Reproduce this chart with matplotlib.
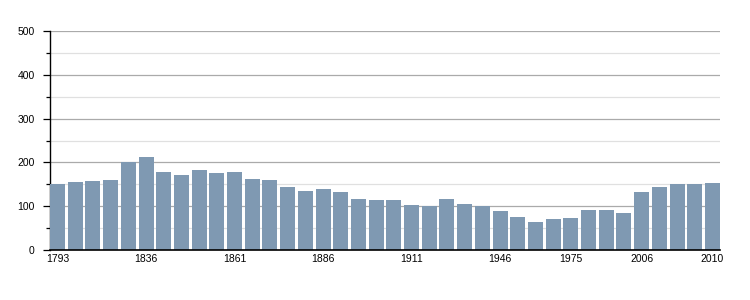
import numpy as np
import matplotlib
matplotlib.use('Agg')
import matplotlib.pyplot as plt

plt.rcParams['font.family'] = ['Liberation Sans', 'DejaVu Sans']

years = [1793, 1800, 1806, 1821, 1831, 1836, 1841, 1846, 1851, 1856,
         1861, 1866, 1872, 1876, 1881, 1886, 1891, 1896, 1901, 1906,
         1911, 1921, 1926, 1931, 1936, 1946, 1954, 1962, 1968, 1975,
         1982, 1990, 1999, 2006, 2007, 2008, 2009, 2010]
population = [151, 155, 157, 160, 201, 212, 178, 171, 182, 176,
              178, 162, 160, 144, 135, 139, 132, 116, 114, 114,
              103, 100, 116, 105, 100, 89, 75, 64, 71, 73,
              91, 91, 84, 132, 144, 151, 151, 153]
labelled_years = [1793, 1836, 1861, 1886, 1911, 1946, 1975, 2006, 2010]

fig = plt.figure(figsize=(7.5, 3), dpi=100)
ax = fig.add_axes([50/750, 50/300, 670/750, 219/300])

x = np.arange(len(years))
w = 0.85
ax.bar(x, population, width=w, color='#7f99b2', zorder=3)

ax.set_xlim(-w/2, len(years) - 1 + w/2)
ax.set_ylim(0, 500)
ax.set_yticks(np.arange(0, 501, 100))
ax.set_yticks(np.arange(50, 500, 100), minor=True)
ax.yaxis.grid(True, which='major', color='#aaaaaa', linewidth=0.9, zorder=0)
ax.yaxis.grid(True, which='minor', color='#e0e0e0', linewidth=0.9, zorder=0)

ticks = [years.index(y) for y in labelled_years]
ax.set_xticks(ticks)
ax.set_xticklabels([str(y) for y in labelled_years])
ax.tick_params(axis='x', length=0, pad=3, labelsize=7.5)
ax.tick_params(axis='y', which='major', length=5, width=0.9, labelsize=7.5, pad=6)
ax.tick_params(axis='y', which='minor', length=3, width=0.9)

for s in ['top', 'right']:
    ax.spines[s].set_visible(False)
ax.spines['left'].set_linewidth(1)
ax.spines['bottom'].set_linewidth(1.2)
ax.spines['bottom'].set_zorder(4)

fig.savefig('out.png', dpi=100)
